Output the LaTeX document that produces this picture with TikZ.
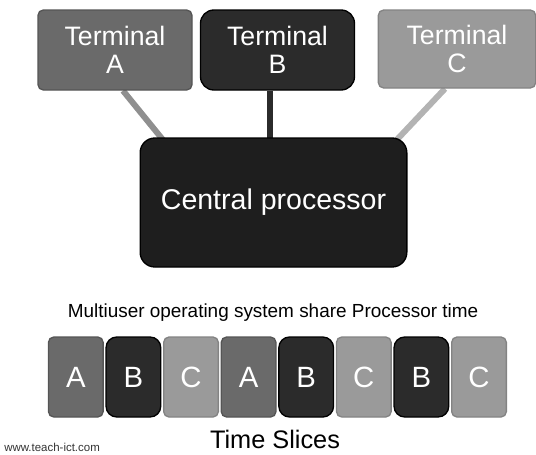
\documentclass[tikz,border=0pt]{standalone}
\usepackage{fontspec}
\setmainfont{Liberation Sans}
\usetikzlibrary{positioning,backgrounds}
\definecolor{termA}{HTML}{6A6A6A}
\definecolor{termB}{HTML}{2B2B2B}
\definecolor{termC}{HTML}{9A9A9A}
\definecolor{cpu}{HTML}{1E1E1E}

\tikzset{
  term/.style={rounded corners=4pt, text=white, align=center, line width=1pt,
    minimum width=115.5pt, minimum height=60pt, font=\fontsize{20}{21}\selectfont},
  slice/.style={rounded corners=4pt, text=white, line width=1pt,
    minimum width=41pt, minimum height=60pt, font=\fontsize{22}{22}\selectfont},
  link/.style={line width=4.5pt},
}

\begin{document}
\begin{tikzpicture}[x=0.75pt,y=-0.75pt]
	  \useasboundingbox (0,0) rectangle (536,454);
	  % terminals and the processor
	  \node (TA) [term,fill=termA,draw=termA!80!black] at (115,50) {Terminal\\A};
	  \node (TB) [term,fill=termB,draw=black,rounded corners=10pt] at (277.5,50) {Terminal\\B};
	  \node (TC) [term,fill=termC,draw=termC!85!black,minimum width=118pt,minimum height=58.5pt] at (457,49) {Terminal\\C};
	  \node (CPU) [fill=cpu,draw=black,line width=1pt,rounded corners=11pt,text=white,
	    minimum width=200pt,minimum height=96.75pt,font=\fontsize{21.4}{22}\selectfont] at (273.5,202.5) {Central processor};
	  \begin{scope}[on background layer]
	    \draw[link,draw=termA!75!white] ([xshift=6pt]TA.south) -- ([xshift=-81.4pt,yshift=-3.75pt]CPU.north);
	    \draw[link,draw=termB] ([xshift=-5.6pt]TB.south) -- ([xshift=-2.6pt,yshift=-3pt]CPU.north);
	    \draw[link,draw=termC!75!white] ([xshift=-9pt]TC.south) -- ([xshift=-11.25pt,yshift=-5.25pt]CPU.north east);
	  \end{scope}
	  % time slices
	  \node (share) at (273,313) {\fontsize{14.2}{15}\selectfont Multiuser operating system share Processor time};
	  \node (s1) [slice,fill=termA,draw=termA!80!black] at (75.8,377) {A};
	  \node (s2) [slice,fill=termB,draw=black,rounded corners=8pt,right=1.2pt of s1] {B};
	  \node (s3) [slice,fill=termC,draw=termC!85!black,right=1.2pt of s2] {C};
	  \node (s4) [slice,fill=termA,draw=termA!80!black,right=1.2pt of s3] {A};
	  \node (s5) [slice,fill=termB,draw=black,rounded corners=8pt,right=1.2pt of s4] {B};
	  \node (s6) [slice,fill=termC,draw=termC!85!black,right=1.2pt of s5] {C};
	  \node (s7) [slice,fill=termB,draw=black,rounded corners=8pt,right=1.2pt of s6] {B};
	  \node (s8) [slice,fill=termC,draw=termC!85!black,right=1.2pt of s7] {C};
	  \node (slices) at (275,439) {\fontsize{19}{20}\selectfont Time Slices};
	  \node (web) [anchor=west,inner sep=0pt,text=black!80] at (4,447) {\fontsize{8.6}{9}\selectfont www.teach-ict.com};
	\end{tikzpicture}
\end{document}
